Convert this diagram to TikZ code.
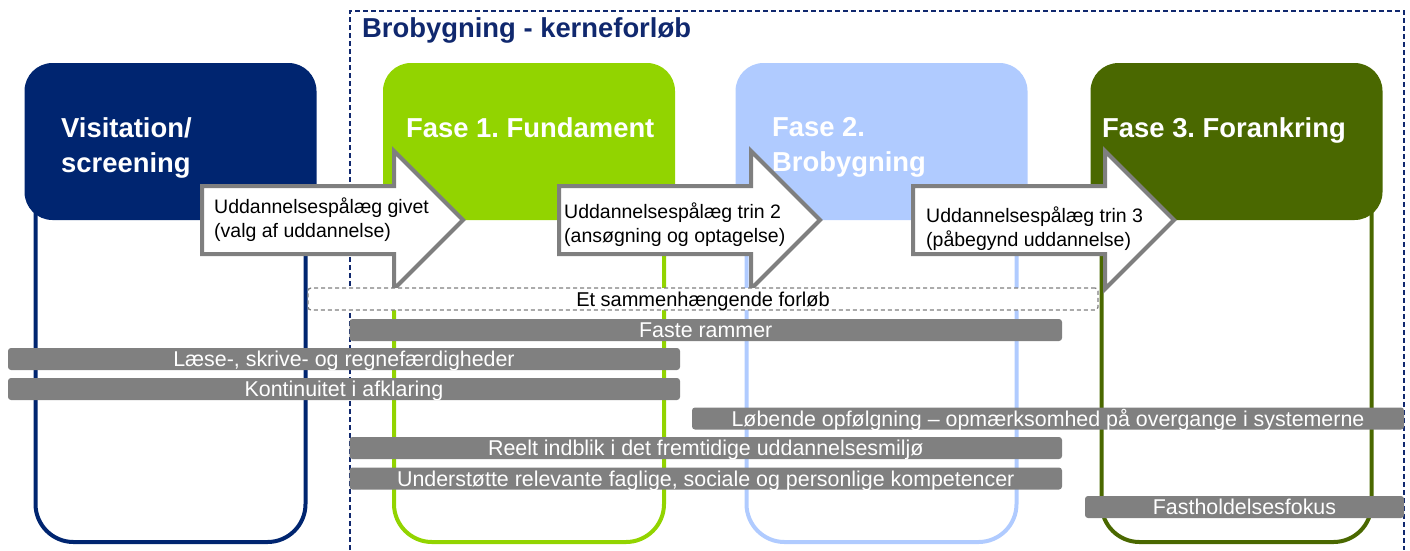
\documentclass[tikz,border=0pt]{standalone}
\usepackage{fontspec}
\setmainfont{Liberation Sans}
\frenchspacing
\definecolor{fasenavy}{RGB}{0,37,112}
\definecolor{faselime}{RGB}{146,212,0}
\definecolor{faseblue}{RGB}{176,203,255}
\definecolor{faseolive}{RGB}{74,104,0}
\definecolor{framenavy}{RGB}{16,40,110}
\definecolor{arrowgray}{RGB}{127,127,127}
\definecolor{barfill}{RGB}{128,128,128}

\begin{document}
\begin{tikzpicture}[x=1pt, y=-1pt]
            \tikzstyle{phase line} = [draw, line width=4pt, rounded corners=38pt, minimum width=270pt, minimum height=390pt, inner sep=0pt]
            \tikzstyle{phase head} = [rounded corners=28pt, minimum width=292pt, minimum height=157pt, inner sep=0pt]
            \tikzstyle{head text} = [white, font=\bfseries\fontsize{27.4}{35}\selectfont, align=left, anchor=north west, inner sep=0pt]
            \tikzstyle{step arrow} = [draw=arrowgray, fill=white, line width=4pt]
            \tikzstyle{arrow text} = [font=\fontsize{19.5}{24}\selectfont, align=left, anchor=north west, inner sep=0pt]
            \tikzstyle{bar} = [fill=barfill, rounded corners=3pt, text=white, inner sep=0pt, minimum height=22pt, text height=18.5pt, text depth=3.5pt, font=\fontsize{21.4}{24}\selectfont]
            \useasboundingbox (0,0) rectangle (1410,550);
            % kerneforloeb frame
            \draw[framenavy, line width=1.5pt, dash pattern=on 5pt off 3pt] (350,550) -- (350,11) -- (1404,11) -- (1404,550);
            \node[framenavy, font=\bfseries\fontsize{27.4}{32}\selectfont, anchor=base west, inner sep=0pt] (title) at (362,37) {Brobygning - kerneforløb};
            % phases
            \foreach \cx/\col/\id in {170.5/fasenavy/vis, 529/faselime/fa, 881.5/faseblue/fb, 1236.5/faseolive/fc} {
                \node[phase line, draw=\col] (\id-line) at (\cx,347) {};
                \node[phase head, fill=\col] (\id-head) at (\cx,141.5) {};
            }
            \node[head text] (vis-text) at (61,117) {Visitation/\\screening};
            \node[head text] (fa-text) at (406,117) {Fase 1. Fundament};
            \node[head text] (fb-text) at (772,117) {Fase 2.\\Brobygning};
            \node[head text] (fc-text) at (1102,117) {Fase 3. Forankring};
            % paalaeg arrows
            \foreach \x in {202, 559, 913} {
                \draw[step arrow] (\x,186) -- ++(192,0) -- ++(0,-35) -- ++(69,69) -- ++(-69,69) -- ++(0,-35) -- ++(-192,0) -- cycle;
            }
            \node[arrow text] (trin1) at (214,198) {Uddannelsespålæg givet\\(valg af uddannelse)};
            \node[arrow text] (trin2) at (564,203) {Uddannelsespålæg trin 2\\(ansøgning og optagelse)};
            \node[arrow text] (trin3) at (926,207) {Uddannelsespålæg trin 3\\(påbegynd uddannelse)};
            % bars
            \node[draw=arrowgray, fill=white, line width=1.3pt, dash pattern=on 4pt off 3pt, rounded corners=3pt, inner sep=0pt, minimum width=790pt, minimum height=22pt, text height=18.5pt, text depth=3.5pt, font=\fontsize{20}{24}\selectfont] (forloeb) at (703,299) {Et sammenhængende forløb};
            \node[bar, minimum width=712.5pt] (rammer) at (705.75,330) {Faste rammer};
            \node[bar, minimum width=672pt] (laese) at (344,359) {Læse-, skrive- og regnefærdigheder};
            \node[bar, minimum width=672pt] (afklaring) at (344,389) {Kontinuitet i afklaring};
            \node[bar, minimum width=712pt] (opfoelgning) at (1048,418.5) {Løbende opfølgning – opmærksomhed på overgange i systemerne};
            \node[bar, minimum width=712.5pt] (indblik) at (705.75,448) {Reelt indblik i det fremtidige uddannelsesmiljø};
            \node[bar, minimum width=712.5pt] (kompetencer) at (705.75,478.5) {Understøtte relevante faglige, sociale og personlige kompetencer};
            \node[bar, minimum width=319pt] (fokus) at (1244.5,507) {Fastholdelsesfokus};
\end{tikzpicture}
\end{document}
